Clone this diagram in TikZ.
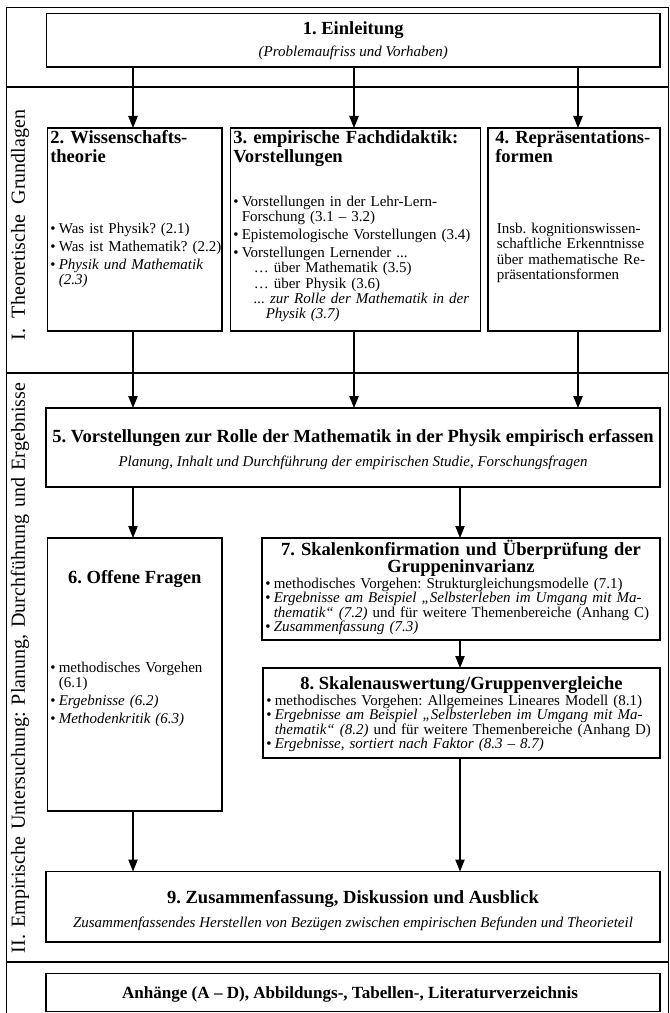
\documentclass[tikz,border=0pt]{standalone}
\usepackage{fontspec}
\setmainfont{Liberation Serif}
\usetikzlibrary{arrows.meta}
\frenchspacing

% sizes: 1 unit = 0.75pt
\newcommand\ftitle{\fontsize{13.9pt}{13pt}\selectfont\bfseries}
\newcommand\fannex{\fontsize{12.8pt}{13pt}\selectfont\bfseries}
\newcommand\fsub{\fontsize{11.25pt}{11.25pt}\selectfont\itshape}
\newcommand\fbody{\fontsize{11.25pt}{11.5pt}\selectfont}
\newcommand\ftight{\fontsize{11.25pt}{10.9pt}\selectfont}
\newcommand\flabel{\fontsize{15pt}{15pt}\selectfont}
% bullet items with hanging indent (with / without a gap after)
\newcommand\bitem[1]{\hangindent=6.4pt\hangafter=1\noindent\makebox[6.4pt][l]{\textbullet}#1\par\vskip1.9pt}
\newcommand\citem[1]{\hangindent=6.4pt\hangafter=1\noindent\makebox[6.4pt][l]{\textbullet}#1\par}
% empty framed box from corner (x1,y1) to corner (x2,y2)
\newcommand\chartbox[5]{\node[box,anchor=north west,minimum width={(#4-#2)*0.75pt},minimum height={(#5-#3)*0.75pt}] (#1) at (#2,#3) {};}

\begin{document}
\begin{tikzpicture}[x=0.75pt,y=-0.75pt,
  box/.style={draw,line width=0.8pt,inner sep=0pt,outer sep=0pt},
  arr/.style={line width=0.8pt,-{Triangle[length=9pt,width=7pt]}},
  sep/.style={line width=0.8pt},
  ctitle/.style={font=\ftitle,inner sep=0pt,anchor=base},
  csub/.style={font=\fsub,inner sep=0pt,anchor=base},
  ltitle/.style={font=\ftitle,inner sep=0pt,anchor=base west,align=left},
  lista/.style={font=\fbody,inner sep=0pt,anchor=base west,align=left},
  listb/.style={font=\ftight,inner sep=0pt,anchor=base west,align=left},
  seclabel/.style={font=\flabel,inner sep=0pt,rotate=90}]
\useasboundingbox (0,0) rectangle (669,1013);

% outer frame and section rules
\chartbox{fr}{6.5}{7.5}{668.5}{1014}
\coordinate (s1) at (0,87);
\coordinate (s2) at (0,373);
\coordinate (s3) at (0,962);
\draw[sep] (fr.west |- s1) -- (fr.east |- s1);
\draw[sep] (fr.west |- s2) -- (fr.east |- s2);
\draw[sep] (fr.west |- s3) -- (fr.east |- s3);

% section labels
\node[seclabel] (lab1) at (20,225) {\makebox[172.5pt][s]{I. Theoretische Grundlagen}};
\node[seclabel] (lab2) at (20,668) {\makebox[427.5pt][s]{II. Empirische Untersuchung: Planung, Durchführung und Ergebnisse}};

% boxes
\chartbox{b1}{46.5}{13.5}{660}{67}
\chartbox{b2}{47.5}{128}{222}{331}
\chartbox{b3}{230.5}{128}{480.5}{331}
\chartbox{b4}{488}{128}{660}{331}
\chartbox{b5}{46}{408}{660}{487}
\chartbox{b6}{47.5}{538}{222}{811}
\chartbox{b7}{262}{538}{660}{640}
\chartbox{b8}{263}{668}{660}{758}
\chartbox{b9}{46}{871.5}{660}{942}
\chartbox{b10}{46}{973.5}{660}{1011.5}

% 1
\node[ctitle] (t1a) at (353.25,35) {1. Einleitung};
\node[csub] (t1b) at (353.25,56.5) {(Problemaufriss und Vorhaben)};

% 2
\node[ltitle,text width=168pt] (t2a) at (50,144) {2. Wissenschafts-\\[0.5pt]theorie};
\node[lista,text width=168pt] (t2b) at (50,233.5) {%
\bitem{Was ist Physik? (2.1)}%
\bitem{Was ist Mathematik? (2.2)}%
\bitem{\textit{Physik und Mathematik\newline(2.3)}}};

% 3
\node[ltitle,text width=185pt] (t3a) at (233,144) {3. empirische Fachdidaktik:\\[0.5pt]Vorstellungen};
\node[lista,text width=185pt] (t3b) at (233,206.5) {%
\bitem{Vorstellungen in der Lehr-Lern-\newline Forschung (3.1 – 3.2)}%
\bitem{Epistemologische Vorstellungen (3.4)}%
\bitem{Vorstellungen Lernender ...\newline
\hspace*{9pt}… über Mathematik (3.5)\newline
\hspace*{9pt}… über Physik (3.6)\newline
\hspace*{9pt}\textit{... zur Rolle der Mathematik in der}\newline
\hspace*{18pt}\textit{Physik (3.7)}}};

% 4
\node[ltitle,text width=125pt] (t4a) at (495,144) {4. Repräsentations-\\[0.5pt]formen};
\node[lista,text width=125pt] (t4b) at (496.5,233.5) {%
Insb. kognitionswissen-\newline schaftliche Erkenntnisse\newline über mathematische Re-\newline präsentationsformen};

% 5
\node[ctitle] (t5a) at (353,442) {5. Vorstellungen zur Rolle der Mathematik in der Physik empirisch erfassen};
\node[csub] (t5b) at (353,466.5) {Planung, Inhalt und Durchführung der empirischen Studie, Forschungsfragen};

% 6
\node[ctitle] (t6a) at (134.75,583) {6. Offene Fragen};
\node[lista,text width=125pt] (t6b) at (50,672.5) {%
\bitem{methodisches Vorgehen\newline(6.1)}%
\bitem{\textit{Ergebnisse (6.2)}}%
\bitem{\textit{Methodenkritik (6.3)}}};

% 7
\node[ctitle,text width=298pt,align=center] (t7a) at (461,555) {7. Skalenkonfirmation und Überprüfung der\\Gruppeninvarianz};
\node[listb,text width=296pt] (t7b) at (265,588) {%
\citem{methodisches Vorgehen: Strukturgleichungsmodelle (7.1)}%
\citem{\textit{Ergebnisse am Beispiel „Selbsterleben im Umgang mit Ma-}\newline\textit{thematik“ (7.2)} und für weitere Themenbereiche (Anhang C)}%
\citem{\textit{Zusammenfassung (7.3)}}};

% 8
\node[ctitle] (t8a) at (461.5,689.5) {8. Skalenauswertung/Gruppenvergleiche};
\node[listb,text width=296pt] (t8b) at (266,705) {%
\citem{methodisches Vorgehen: Allgemeines Lineares Modell (8.1)}%
\citem{\textit{Ergebnisse am Beispiel „Selbsterleben im Umgang mit Ma-}\newline\textit{thematik“ (8.2)} und für weitere Themenbereiche (Anhang D)}%
\citem{\textit{Ergebnisse, sortiert nach Faktor (8.3 – 8.7)}}};

% 9
\node[ctitle] (t9a) at (353,903) {9. Zusammenfassung, Diskussion und Ausblick};
\node[csub] (t9b) at (353,927.5) {Zusammenfassendes Herstellen von Bezügen zwischen empirischen Befunden und Theorieteil};

% appendix
\node[ctitle,font=\fannex] (t10) at (350,998) {Anhänge (A – D), Abbildungs-, Tabellen-, Literaturverzeichnis};

% arrow columns
\coordinate (c1) at (133,0);
\coordinate (c2) at (354,0);
\coordinate (c3) at (578,0);
\coordinate (c4) at (460,0);

\draw[arr] (b1.south -| c1) -- (b2.north -| c1);
\draw[arr] (b1.south -| c2) -- (b3.north -| c2);
\draw[arr] (b1.south -| c3) -- (b4.north -| c3);
\draw[arr] (b2.south -| c1) -- (b5.north -| c1);
\draw[arr] (b3.south -| c2) -- (b5.north -| c2);
\draw[arr] (b4.south -| c3) -- (b5.north -| c3);
\draw[arr] (b5.south -| c1) -- (b6.north -| c1);
\draw[arr] (b5.south -| c4) -- (b7.north -| c4);
\draw[arr] (b7.south -| c4) -- (b8.north -| c4);
\draw[arr] (b6.south -| c1) -- (b9.north -| c1);
\draw[arr] (b8.south -| c4) -- (b9.north -| c4);
\end{tikzpicture}
\end{document}
